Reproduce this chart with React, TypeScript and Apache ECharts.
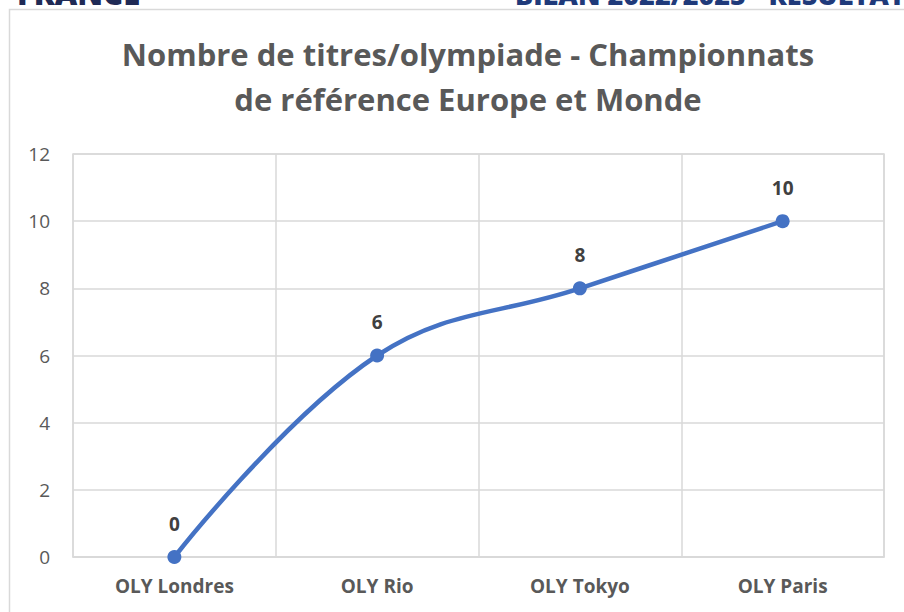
import React, { useEffect, useRef } from "react";
import * as echarts from "echarts";

const categories = ["OLY Londres", "OLY Rio", "OLY Tokyo", "OLY Paris"];
const titles = [0, 6, 8, 10];
const titleLines = ["Nombre de titres/olympiade - Championnats", "de référence Europe et Monde"];
const headerLeft = "FRANCE";
const headerRight = "BILAN 2022/2025 - RESULTAT";

export default function App() {
  const ref = useRef<HTMLDivElement>(null);
  useEffect(() => {
    if (!ref.current) return;
    const chart = echarts.init(ref.current, null, { renderer: "svg" });
    const font = "'Open Sans', Lato, sans-serif";
    chart.setOption({
      animation: false,
      backgroundColor: "#ffffff",
      textStyle: { fontFamily: font },
      title: {
        text: titleLines.join("\n"),
        left: 463,
        textAlign: "center",
        top: 26,
        textStyle: {
          fontFamily: font,
          fontSize: 31,
          fontWeight: "bold",
          color: "#595959",
          lineHeight: 45,
        },
      },
      graphic: [
        {
          type: "rect",
          shape: { x: 9.5, y: 9.5, width: 1000, height: 700 },
          style: { fill: "none", stroke: "#d9d9d9", lineWidth: 1.5 },
          silent: true,
        },
        {
          type: "text",
          x: 17,
          y: 8,
          style: {
            text: headerLeft,
            font: "900 31px " + font,
            fill: "#1f2a55",
            verticalAlign: "bottom",
          },
        },
        {
          type: "text",
          x: 515,
          y: 8,
          style: {
            text: headerRight,
            font: "900 27px " + font,
            fill: "#1f3a7a",
            verticalAlign: "bottom",
          },
        },
      ],
      grid: {
        left: 73,
        right: 20,
        top: 154,
        bottom: 55,
        show: true,
        borderColor: "#d9d9d9",
        borderWidth: 1.5,
      },
      xAxis: {
        type: "category",
        data: categories,
        boundaryGap: true,
        axisLine: { show: true, lineStyle: { color: "#d9d9d9", width: 1.5 } },
        axisTick: { show: false },
        splitLine: { show: true, lineStyle: { color: "#d9d9d9", width: 1.5 } },
        axisLabel: {
          margin: 19,
          fontSize: 19,
          fontWeight: "bold",
          color: "#595959",
          fontFamily: font,
        },
      },
      yAxis: {
        type: "value",
        min: 0,
        max: 12,
        interval: 2,
        axisLine: { show: false },
        axisTick: { show: false },
        splitLine: { show: true, lineStyle: { color: "#d9d9d9", width: 1.5 } },
        axisLabel: {
          margin: 23,
          fontSize: 19,
          color: "#595959",
          fontFamily: font,
        },
      },
      series: [
        {
          type: "line",
          data: titles,
          smooth: 0.4,
          symbol: "circle",
          symbolSize: 14,
          lineStyle: { color: "#4472c4", width: 4.5 },
          itemStyle: { color: "#4472c4" },
          label: {
            show: true,
            position: "top",
            distance: 17,
            fontSize: 19,
            fontWeight: "bold",
            color: "#404040",
            fontFamily: font,
          },
        },
      ],
    });
    return () => chart.dispose();
  }, []);
  return (
    <div
      ref={ref}
      style={{ position: "fixed", left: 0, top: 0, width: 904, height: 612 }}
    />
  );
}
